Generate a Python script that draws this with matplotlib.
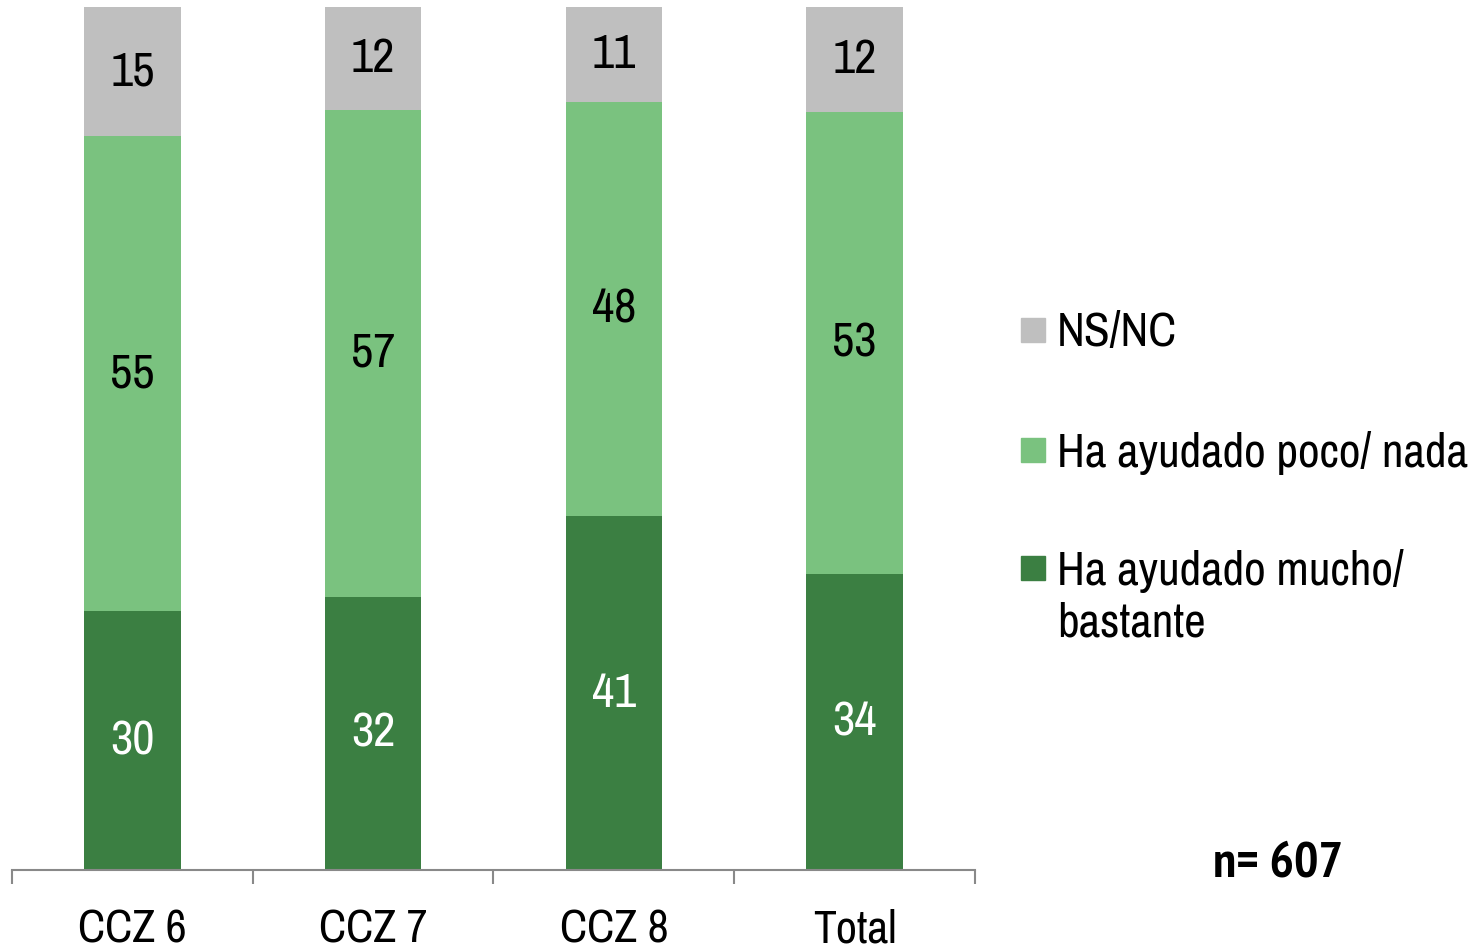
import numpy as np
import matplotlib.pyplot as plt
from matplotlib.patches import Rectangle

plt.rcParams['font.family'] = ['Archivo Narrow', 'Liberation Sans', 'DejaVu Sans']

categories = ['CCZ 6', 'CCZ 7', 'CCZ 8', 'Total']
mucho = [30, 32, 41, 34]
poco = [55, 57, 48, 53]
nsnc = [15, 12, 11, 12]
series_names = ['Ha ayudado mucho/\nbastante', 'Ha ayudado poco/ nada', 'NS/NC']
colors = ['#3B7F42', '#7AC27F', '#BFBFBF']
label_colors = ['white', 'black', 'black']

data = np.array([mucho, poco, nsnc], dtype=float)
share = data / data.sum(axis=0)

fig = plt.figure(figsize=(14.81, 9.5), dpi=100)
ax = fig.add_axes([12/1481, 80/950, 963/1481, 863/950])

x = np.arange(len(categories))
bottom = np.zeros(len(categories))
for i in range(3):
    ax.bar(x, share[i], 0.4, bottom=bottom, color=colors[i], edgecolor='none')
    for j in range(len(categories)):
        ax.text(x[j], bottom[j] + share[i][j] / 2, str(int(data[i][j])),
                ha='center', va='center', fontsize=35, color=label_colors[i])
    bottom += share[i]

ax.set_xlim(-0.5, len(categories) - 0.5)
ax.set_ylim(0, 1)
ax.set_yticks([])
for s in ['top', 'right', 'left']:
    ax.spines[s].set_visible(False)
ax.spines['bottom'].set_color('#898989')
ax.spines['bottom'].set_linewidth(1.5)
ax.set_xticks(x)
ax.set_xticklabels(categories, fontsize=33)
ax.tick_params(axis='x', which='major', length=0, pad=28)
ax.set_xticks(np.arange(-0.5, len(categories)), minor=True)
ax.tick_params(axis='x', which='minor', length=10, width=1.5, color='#898989')

# legend, top to bottom
leg_y = [330, 450, 568]
for k, idx in enumerate([2, 1, 0]):
    y = 1 - leg_y[k] / 950
    fig.patches.append(Rectangle((1021/1481, y - 12/950), 24/1481, 24/950,
                                 transform=fig.transFigure, color=colors[idx]))
    fig.text(1057/1481, y + 19/950, series_names[idx], ha='left', va='top',
             fontsize=34, linespacing=1.25)

fig.text(1278/1481, 1 - 864/950, 'n= 607', ha='center', va='center',
         fontsize=37, fontweight='bold', family=['PT Sans Narrow', 'DejaVu Sans'])

fig.savefig('out.png', dpi=100)
